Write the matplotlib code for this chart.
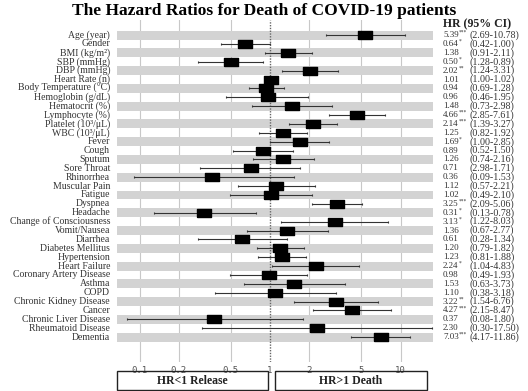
import numpy as np
import matplotlib
matplotlib.use("Agg")
import matplotlib.pyplot as plt
from matplotlib.transforms import blended_transform_factory
from matplotlib.patches import Rectangle

labels = [
    "Age (year)", "Gender", "BMI (kg/m\u00b2)", "SBP (mmHg)", "DBP (mmHg)",
    "Heart Rate (n)", "Body Temperature (\u00b0C)", "Hemoglobin (g/dL)",
    "Hematocrit (%)", "Lymphocyte (%)", "Platelet (10\u00b3/\u03bcL)",
    "WBC (10\u00b3/\u03bcL)", "Fever", "Cough", "Sputum", "Sore Throat",
    "Rhinorrhea", "Muscular Pain", "Fatigue", "Dyspnea", "Headache",
    "Change of Consciousness", "Vomit/Nausea", "Diarrhea", "Diabetes Mellitus",
    "Hypertension", "Heart Failure", "Coronary Artery Disease", "Asthma",
    "COPD", "Chronic Kidney Disease", "Cancer", "Chronic Liver Disease",
    "Rheumatoid Disease", "Dementia",
]
hr = [5.39, 0.64, 1.38, 0.50, 2.02, 1.01, 0.94, 0.96, 1.48, 4.66, 2.14, 1.25,
      1.69, 0.89, 1.26, 0.71, 0.36, 1.12, 1.02, 3.25, 0.31, 3.13, 1.36, 0.61,
      1.20, 1.23, 2.24, 0.98, 1.53, 1.10, 3.22, 4.27, 0.37, 2.30, 7.03]
# interval ends as drawn in the chart
ci_lo = [2.69, 0.42, 0.91, 0.28, 1.24, 1.00, 0.69, 0.46, 0.73, 2.85, 1.39, 0.82,
         1.00, 0.52, 0.74, 0.29, 0.09, 0.57, 0.49, 2.09, 0.13, 1.22, 0.67, 0.28,
         0.79, 0.81, 1.04, 0.49, 0.63, 0.38, 1.54, 2.15, 0.08, 0.30, 4.17]
ci_hi = [10.78, 1.00, 2.11, 0.89, 3.31, 1.02, 1.28, 1.95, 2.98, 7.61, 3.27, 1.92,
         2.85, 1.50, 2.16, 1.71, 1.53, 2.21, 2.10, 5.06, 0.78, 8.03, 2.77, 1.34,
         1.82, 1.88, 4.83, 1.93, 3.73, 3.18, 6.76, 8.47, 1.80, 17.50, 11.86]
stars = ["***", "*", "", "*", "**", "", "", "", "", "***", "***", "", "*", "",
         "", "", "", "", "", "***", "*", "*", "", "", "", "", "*", "", "", "",
         "**", "***", "", "", "***"]
# interval text as printed in the right column
ci_text = ["(2.69-10.78)", "(0.42-1.00)", "(0.91-2.11)", "(1.28-0.89)",
           "(1.24-3.31)", "(1.00-1.02)", "(0.69-1.28)", "(0.46-1.95)",
           "(0.73-2.98)", "(2.85-7.61)", "(1.39-3.27)", "(0.82-1.92)",
           "(1.00-2.85)", "(0.52-1.50)", "(0.74-2.16)", "(2.98-1.71)",
           "(0.09-1.53)", "(0.57-2.21)", "(0.49-2.10)", "(2.09-5.06)",
           "(0.13-0.78)", "(1.22-8.03)", "(0.67-2.77)", "(0.28-1.34)",
           "(0.79-1.82)", "(0.81-1.88)", "(1.04-4.83)", "(0.49-1.93)",
           "(0.63-3.73)", "(0.38-3.18)", "(1.54-6.76)", "(2.15-8.47)",
           "(0.08-1.80)", "(0.30-17.50)", "(4.17-11.86)"]
xticks = [0.1, 0.2, 0.5, 1, 2, 5, 10]
xtick_labels = ["0.1", "0.2", "0.5", "1", "2", "5", "10"]

W, H = 528, 391
serif = "Liberation Serif"
txt_col = "#333333"

fig = plt.figure(figsize=(W / 100, H / 100), dpi=100)
ax = fig.add_axes([117 / W, (H - 362) / H, 316 / W, 342 / H])

n = len(labels)
y = np.arange(n)

for g in xticks:
    if g == 1:
        continue
    ax.axvline(g, color="#c8c8c8", lw=0.8, zorder=0)
for i in y[::2]:
    ax.axhspan(i - 0.5, i + 0.5, color="#d3d3d3", lw=0, zorder=1)
ax.axvline(1, color="#666666", lw=1.0, ls=(0, (1, 1)), zorder=2)

ax.errorbar(hr, y, xerr=[np.array(hr) - np.array(ci_lo), np.array(ci_hi) - np.array(hr)],
            fmt="none", ecolor="#333333", elinewidth=0.8, capsize=1, capthick=0.8, zorder=3)
box = [(-1, -0.58), (1, -0.58), (1, 0.58), (-1, 0.58), (-1, -0.58)]
ax.plot(hr, y, ls="none", marker=box, markersize=10.5, color="black", zorder=4)

ax.set_xscale("log")
ax.set_xlim(10 ** ((117 - 270) / 130.5), 10 ** ((433 - 270) / 130.5))
ax.set_ylim(36.8, -1.7)
ax.set_xticks(xticks)
ax.set_xticklabels(xtick_labels, family="DejaVu Sans Mono", fontsize=6.5, color="#555555")
ax.xaxis.set_minor_locator(plt.NullLocator())
ax.tick_params(axis="x", length=0, pad=3)
ax.set_yticks([])
for s in ax.spines.values():
    s.set_visible(False)

trans = blended_transform_factory(fig.transFigure, ax.transData)
for i in y:
    fig.text(110 / W, i, labels[i], transform=trans, ha="right", va="center",
             family=serif, fontsize=7, color=txt_col)
    fig.text(443 / W, i, f"{hr[i]:.2f}", transform=trans, ha="left", va="center",
             family=serif, fontsize=6.5, color=txt_col)
    if stars[i]:
        fig.text(459 / W, i - 0.3, stars[i], transform=trans, ha="left", va="center",
                 family=serif, fontsize=4, color=txt_col)
    fig.text(469 / W, i, ci_text[i], transform=trans, ha="left", va="center",
             family=serif, fontsize=7.2, color=txt_col)

fig.text(443 / W, 1 - 24 / H, "HR (95% CI)", ha="left", va="center",
         family=serif, fontsize=8.5, fontweight="bold", color="#222222")
fig.text(264 / W, 1 - 11 / H, "The Hazard Ratios for Death of COVID-19 patients",
         ha="center", va="center", family=serif, fontsize=12.5, fontweight="bold")

# bottom direction boxes
for x0, x1, t in [(117, 268, "HR<1 Release"), (275, 427, "HR>1 Death")]:
    fig.patches.append(Rectangle((x0 / W, 1 - 390 / H), (x1 - x0) / W, 19 / H,
                                 transform=fig.transFigure, fill=False,
                                 edgecolor="#222222", lw=1.0))
    fig.text((x0 + x1) / 2 / W, 1 - 380.5 / H, t, ha="center", va="center",
             family=serif, fontsize=8.5, fontweight="bold", color="#222222")

fig.savefig("out.png", dpi=100)
